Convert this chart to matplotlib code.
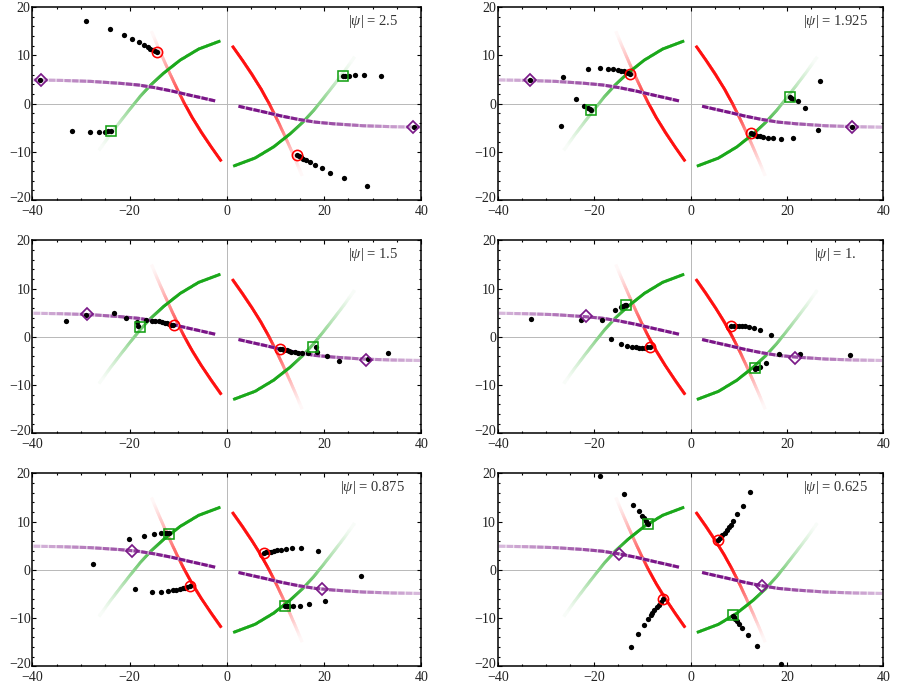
import numpy as np
import matplotlib
matplotlib.use('Agg')
import matplotlib.pyplot as plt
from matplotlib.collections import LineCollection
from matplotlib.ticker import MultipleLocator
from matplotlib.transforms import ScaledTranslation
import matplotlib.colors as mcolors

plt.rcParams['font.family'] = ['Liberation Serif', 'DejaVu Serif']
plt.rcParams['mathtext.fontset'] = 'custom'
plt.rcParams['mathtext.rm'] = 'Liberation Serif'
plt.rcParams['mathtext.it'] = 'Liberation Serif:italic'

# ---------------- data (left branch; right branch is the point mirror) ----------------
psi_labels = ['2.5', '1.925', '1.5', '1.', '0.875', '0.625']

red_x = [-1.1, -3.2, -5.2, -7.05, -8.7, -10.2, -11.6, -12.95, -14.25, -15.5]
red_y = [-12.0, -9.0, -6.0, -3.0, 0.0, 3.0, 6.0, 9.0, 12.0, 15.0]

green_x = [-1.3, -5.8, -9.6, -13.0, -15.6, -17.8, -19.8, -21.9, -24.1, -26.3]
green_y = [13.0, 11.3, 9.0, 6.3, 3.9, 1.5, -1.0, -3.7, -6.6, -9.7]

purple_x = [-2.4, -5.0, -7.9, -11.3, -14.8, -18.2, -22.0, -28.0, -34.0, -40.0]
purple_y = [0.55, 1.15, 1.8, 2.6, 3.3, 3.85, 4.2, 4.6, 4.8, 4.9]

circle_x = [-14.4, -12.5, -10.9, -8.5, -7.6, -5.8]
circle_y = [10.7, 6.2, 2.5, -2.2, -3.45, -6.1]
square_x = [-23.9, -20.7, -17.8, -13.35, -11.95, -8.9]
square_y = [-5.7, -1.4, 2.1, 6.55, 7.5, 9.45]
diamond_x = [-38.3, -33.4, -28.7, -21.6, -19.55, -14.8]
diamond_y = [4.85, 4.85, 4.7, 4.3, 4.0, 3.35]

dots1_x = [-28.9, -24.0, -21.2, -19.5, -18.1, -17.1, -16.3, -15.7, -15.2, -14.8, -14.4,
           -31.8, -28.2, -26.3, -25.1, -24.4, -23.9, -38.4]
dots1_y = [17.2, 15.4, 14.3, 13.4, 12.7, 12.2, 11.8, 11.4, 11.1, 10.8, 10.65,
           -5.7, -5.9, -5.9, -5.8, -5.7, -5.7, 4.9]

dots2_x = [-21.2, -18.8, -17.2, -16.0, -15.1, -14.4, -13.8, -13.3, -12.9, -12.5,
           -26.4, -23.8, -22.2, -21.2, -20.9, -20.6, -26.8, -33.4]
dots2_y = [7.2, 7.4, 7.2, 7.2, 7.0, 6.8, 6.7, 6.55, 6.4, 6.2,
           5.5, 1.0, -0.5, -1.0, -1.2, -1.4, -4.7, 4.85]

dots3_x = [-33.1, -29.0, -23.1, -20.7, -18.5, -18.3, -16.6, -15.4, -14.7, -14.0, -13.3,
           -12.8, -12.3, -11.8, -11.4, -11.0]
dots3_y = [3.3, 4.5, 5.05, 4.0, 3.1, 2.2, 3.4, 3.3, 3.25, 3.2, 3.05,
           2.9, 2.8, 2.65, 2.55, 2.5]

dots4_x = [-33.1, -22.7, -18.3, -15.6, -14.5, -14.0, -13.6, -13.35,
           -16.6, -14.5, -13.1, -12.1, -11.3, -10.6, -10.0, -9.5, -9.0, -8.5]
dots4_y = [3.8, 3.6, 3.5, 5.5, 6.2, 6.4, 6.55, 6.6,
           -0.4, -1.5, -1.8, -2.05, -2.2, -2.25, -2.25, -2.25, -2.2, -2.2]

dots5_x = [-27.5, -20.1, -17.0, -15.0, -13.6, -12.8, -12.3, -11.95,
           -18.8, -15.3, -13.5, -12.1, -11.1, -10.35, -9.7, -9.1, -8.6, -8.1, -7.6]
dots5_y = [1.2, 6.4, 7.05, 7.45, 7.6, 7.6, 7.6, 7.55,
           -4.0, -4.5, -4.5, -4.3, -4.2, -4.1, -3.95, -3.8, -3.7, -3.6, -3.45]

dots6_x = [-18.7, -13.8, -12.0, -10.7, -10.1, -9.7, -9.3, -9.0, -8.8,
           -12.3, -10.8, -9.7, -8.85, -8.3, -7.9, -7.5, -7.05, -6.6, -6.2, -5.8]
dots6_y = [19.5, 15.7, 13.5, 12.1, 11.2, 10.7, 10.2, 9.8, 9.5,
           -16.1, -13.3, -11.5, -10.2, -9.4, -8.85, -8.3, -7.7, -7.2, -6.6, -6.1]

dots_x = [dots1_x, dots2_x, dots3_x, dots4_x, dots5_x, dots6_x]
dots_y = [dots1_y, dots2_y, dots3_y, dots4_y, dots5_y, dots6_y]

# ---------------- styling ----------------
RED = '#ff1010'
GREEN = '#1aa81a'
PURPLE = '#7a1487'


def red_alpha(f):
    g = np.clip((f - 0.42) / 0.58, 0, 1)
    return np.maximum((1 - g) ** 1.2, 0.03)


def green_alpha(f):
    g = np.clip((f - 0.38) / 0.62, 0, 1)
    return np.maximum((1 - g) ** 1.2, 0.03)


def purple_alpha(f):
    return np.where(f < 0.25, 1.0, 1.0 - (f - 0.25) / 0.75 * 0.72)


def purple_gap_alpha(f):
    return 0.35 * purple_alpha(f)


def grad_line(ax, xs, ys, color, alpha_fn, lw, z, n=None, dash_frac=1.0, period=None):
    xs = np.asarray(xs, float)
    ys = np.asarray(ys, float)
    s = np.concatenate([[0], np.cumsum(np.hypot(np.diff(xs), np.diff(ys)))])
    total = s[-1]
    if period is not None:
        n = max(int(round(total / period)), 1)
    step = total / n
    t0 = np.arange(n) * step
    if dash_frac >= 1.0:
        t1 = np.minimum(t0 + step * 1.6, total)   # slight overlap hides seams
    else:
        t1 = t0 + step * dash_frac
    segs = []
    for a, b in zip(t0, t1):
        inner = s[(s > a) & (s < b)]
        tt = np.sort(np.concatenate([[a, b], inner]))
        segs.append(np.column_stack([np.interp(tt, s, xs), np.interp(tt, s, ys)]))
    fmid = (t0 + step * min(dash_frac, 1.0) / 2) / total
    rgb = np.array(mcolors.to_rgb(color))
    cols = [tuple(a * rgb + (1 - a) * 1.0) for a in alpha_fn(fmid)]
    lc = LineCollection(segs, colors=cols, linewidths=lw, capstyle='butt',
                        joinstyle='round', zorder=z)
    ax.add_collection(lc)


fig = plt.figure(figsize=(9.02, 6.84), dpi=100)
col_left = [0.0358, 0.5518]
col_w = [0.4313, 0.4275]
row_bottom = [0.7076, 0.3665, 0.0259]
row_h = 0.2820

for i in range(6):
    r, c = divmod(i, 2)
    ax = fig.add_axes([col_left[c], row_bottom[r], col_w[c], row_h])
    ax.set_xlim(-40, 40)
    ax.set_ylim(-20, 20)
    ax.axhline(0, color='#b8b8b8', lw=0.7, zorder=0.5)
    ax.axvline(0, color='#b8b8b8', lw=0.7, zorder=0.5)

    for sgn in (1, -1):
        px, py = sgn * np.array(purple_x), sgn * np.array(purple_y)
        grad_line(ax, sgn * np.array(red_x), sgn * np.array(red_y), RED,
                  red_alpha, lw=2.1, z=2.0, n=120)
        grad_line(ax, sgn * np.array(green_x), sgn * np.array(green_y), GREEN,
                  green_alpha, lw=2.1, z=2.1, n=120)
        grad_line(ax, px, py, PURPLE, purple_gap_alpha, lw=2.2, z=2.15, n=120)
        grad_line(ax, px, py, PURPLE, purple_alpha, lw=2.2, z=2.2,
                  period=1.6, dash_frac=0.82)

    dx = np.array(dots_x[i])
    dy = np.array(dots_y[i])
    ax.plot(np.concatenate([dx, -dx]), np.concatenate([dy, -dy]), 'o', color='black',
            ms=3.8, mew=0, zorder=4)

    cx, cy = circle_x[i], circle_y[i]
    ax.plot([cx, -cx], [cy, -cy], 'o', mfc='none', mec='#ff0000', ms=7.4, mew=1.15, zorder=5)
    sx, sy = square_x[i], square_y[i]
    ax.plot([sx, -sx], [sy, -sy], 's', mfc='none', mec='#14a014', ms=6.6, mew=1.15, zorder=5)
    qx, qy = diamond_x[i], diamond_y[i]
    ax.plot([qx, -qx], [qy, -qy], 'D', mfc='none', mec='#7a1a88', ms=6.6, mew=1.25, zorder=5)

    ax.text(30, 17, r'$|\psi|$ = ' + psi_labels[i], ha='center', va='center',
            fontsize=10.5, color='#333333')

    ax.xaxis.set_major_locator(MultipleLocator(20))
    ax.xaxis.set_minor_locator(MultipleLocator(5))
    ax.yaxis.set_major_locator(MultipleLocator(10))
    ax.yaxis.set_minor_locator(MultipleLocator(2))
    ax.tick_params(which='both', direction='in', top=True, right=True,
                   width=0.8, color='black', labelsize=10, labelcolor='#222222')
    ax.tick_params(which='major', length=2.9)
    ax.tick_params(axis='x', which='major', pad=3.6)
    ax.tick_params(axis='y', which='major', pad=1.2)
    ax.tick_params(which='minor', length=1.7)
    for sp in ax.spines.values():
        sp.set_linewidth(1.1)

    # lift the bottom y label a little so it clears the x label in the corner
    ylocs = list(ax.yaxis.get_majorticklocs())
    yticks = ax.yaxis.get_major_ticks()
    for loc, tk in zip(ylocs, yticks):
        if abs(loc + 20) < 1e-6:
            tk.label1.set_transform(tk.label1.get_transform() +
                                    ScaledTranslation(0, 3.5 / 100, fig.dpi_scale_trans))

fig.savefig('out.png', dpi=100)
